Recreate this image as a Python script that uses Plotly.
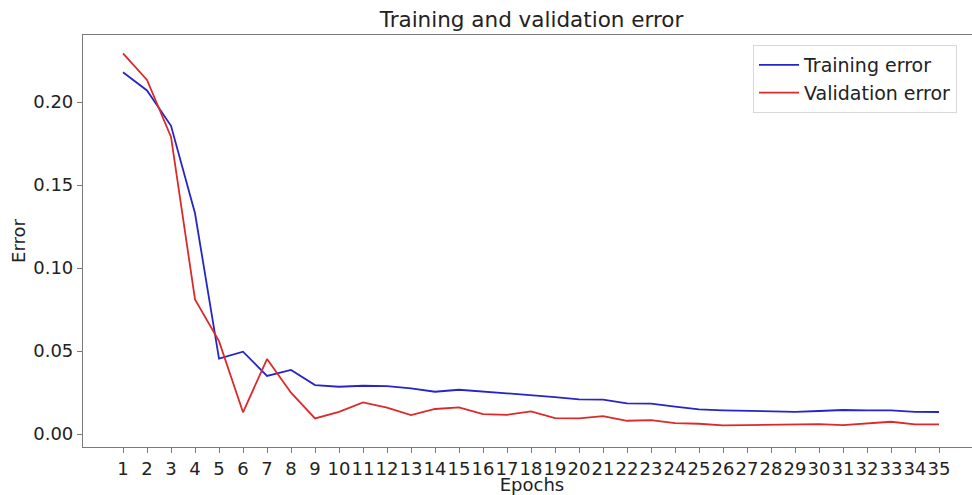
import plotly.graph_objects as go

epochs = list(range(1, 36))
training_error = [0.2180, 0.2070, 0.1857, 0.1330, 0.0454, 0.0496, 0.0350, 0.0386, 0.0295, 0.0285,
                  0.0291, 0.0289, 0.0275, 0.0255, 0.0267, 0.0257, 0.0243, 0.0237, 0.0223, 0.0209,
                  0.0207, 0.0185, 0.0183, 0.0165, 0.0149, 0.0143, 0.0139, 0.0134, 0.0134, 0.0139,
                  0.0145, 0.0143, 0.0143, 0.0134, 0.0133]
validation_error = [0.2293, 0.2133, 0.1790, 0.0811, 0.0560, 0.0131, 0.0452, 0.0249, 0.0094, 0.0134,
                    0.0191, 0.0159, 0.0114, 0.0151, 0.0161, 0.0120, 0.0116, 0.0137, 0.0096, 0.0094,
                    0.0108, 0.0080, 0.0084, 0.0066, 0.0062, 0.0052, 0.0054, 0.0056, 0.0056, 0.0060,
                    0.0054, 0.0066, 0.0074, 0.0058, 0.0058]
y_ticks = [0.00, 0.05, 0.10, 0.15, 0.20]
y_tick_labels = ["0.00", "0.05", "0.10", "0.15", "0.20"]

FONT = "DejaVu Sans"
AX = "#7a7a7a"
W = 1020  # figure is wider than the window: the right side is cropped like the reference

fig = go.Figure()
fig.add_trace(go.Scatter(x=epochs, y=training_error, mode="lines", name="Training error",
                         line=dict(color="#2525c8", width=1.8)))
fig.add_trace(go.Scatter(x=epochs, y=validation_error, mode="lines", name="Validation error",
                         line=dict(color="#dc2a2a", width=1.8)))

fig.update_layout(
    width=W, height=495,
    margin=dict(l=83, r=W - 981, t=35, b=48, autoexpand=False),
    paper_bgcolor="white", plot_bgcolor="white",
    font=dict(family=FONT, size=18, color="#222"),
    title=dict(text="Training and validation error", x=(83 + 980) / 2 / W, xanchor="center",
               y=1 - 19 / 495, yanchor="middle", yref="container",
               font=dict(family=FONT, size=21.5, color="#222")),
    showlegend=True,
    legend=dict(x=(753 - 83) / (981 - 83), xanchor="left", y=(447 - 45) / 412, yanchor="top",
                bgcolor="rgba(255,255,255,0.8)", bordercolor="#d8d8d8", borderwidth=1,
                itemwidth=40,
                font=dict(family=FONT, size=19, color="#222"), tracegroupgap=0),
    xaxis=dict(range=[-0.667, 36.75], tickmode="array", tickvals=epochs,
               ticktext=[str(e) for e in epochs], tickangle=0, automargin=False,
               showline=True, linecolor=AX, linewidth=1.2, mirror=True,
               ticks="outside", ticklen=5, tickcolor=AX, tickwidth=1,
               showgrid=False, zeroline=False,
               title=dict(text="Epochs", standoff=4, font=dict(family=FONT, size=18))),
    yaxis=dict(range=[-0.0078, 0.2404], tickmode="array", tickvals=y_ticks, ticktext=y_tick_labels,
               automargin=False,
               showline=True, linecolor=AX, linewidth=1.2, mirror=False,
               ticks="outside", ticklen=5, tickcolor=AX, tickwidth=1,
               showgrid=False, zeroline=False,
               title=dict(text="Error", standoff=2, font=dict(family=FONT, size=18))),
)

fig.write_html("out.html", config={"displayModeBar": False},
               post_script="document.body.style.margin='0';document.body.style.overflow='hidden';")
